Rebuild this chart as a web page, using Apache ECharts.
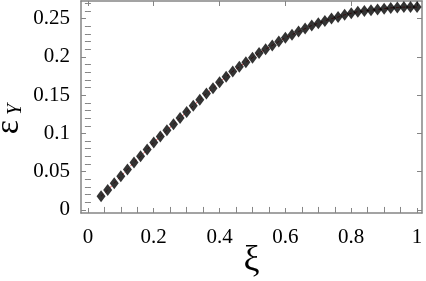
<!DOCTYPE html>
<html>
<head>
<meta charset="utf-8">
<script src="https://cdn.jsdelivr.net/npm/echarts@6/dist/echarts.min.js"></script>
<style>
  html, body { margin: 0; padding: 0; background: #fff; }
  #chart { width: 426px; height: 281px; }
</style>
</head>
<body>
<div id="chart"></div>
<script>
// data
const xi = [0.04, 0.06, 0.08, 0.10, 0.12, 0.14, 0.16, 0.18, 0.20, 0.22,
  0.24, 0.26, 0.28, 0.30, 0.32, 0.34, 0.36, 0.38, 0.40, 0.42,
  0.44, 0.46, 0.48, 0.50, 0.52, 0.54, 0.56, 0.58, 0.60, 0.62,
  0.64, 0.66, 0.68, 0.70, 0.72, 0.74, 0.76, 0.78, 0.80, 0.82,
  0.84, 0.86, 0.88, 0.90, 0.92, 0.94, 0.96, 0.98, 1.00];
const epsY = [0.018, 0.026, 0.035, 0.044, 0.053, 0.062, 0.070, 0.079, 0.088, 0.096,
  0.104, 0.112, 0.120, 0.128, 0.136, 0.144, 0.152, 0.159, 0.167, 0.174,
  0.181, 0.187, 0.193, 0.199, 0.205, 0.210, 0.215, 0.220, 0.225, 0.229,
  0.233, 0.237, 0.241, 0.244, 0.247, 0.250, 0.252, 0.255, 0.257, 0.259,
  0.260, 0.261, 0.262, 0.263, 0.264, 0.2645, 0.265, 0.265, 0.265];

// tick labels
const xTicks = [0, 0.2, 0.4, 0.6, 0.8, 1];
const xMinor = [0.05, 0.1, 0.15, 0.25, 0.3, 0.35, 0.45, 0.5, 0.55, 0.65, 0.7, 0.75, 0.85, 0.9, 0.95];
const yTicks = [0, 0.05, 0.1, 0.15, 0.2, 0.25];
const yMinor = [0.01, 0.02, 0.03, 0.04, 0.06, 0.07, 0.08, 0.09, 0.11, 0.12, 0.13, 0.14,
  0.16, 0.17, 0.18, 0.19, 0.21, 0.22, 0.23, 0.24, 0.26, 0.27];

const XMIN = -0.021, XMAX = 1.015;
const YMIN = -0.004, YMAX = 0.273;

const frame = "#858585";
const serif = "'Liberation Serif', 'DejaVu Serif', serif";
const fmt = (v) => String(+(+v).toFixed(2));

// one axis for the frame side + major ticks, one for the minor ticks
const makeAxis = (pos, min, max, ticks, minor, isX) => {
  const base = { type: "value", position: pos, min: min, max: max, splitLine: { show: false } };
  const labels = pos === "bottom" || pos === "left";
  return [
    {
      ...base,
      axisLine: { show: true, onZero: false, lineStyle: { color: frame, width: 1.5 } },
      axisTick: { show: true, inside: true, length: 5, customValues: ticks, lineStyle: { color: frame, width: 1 } },
      axisLabel: labels
        ? { show: true, customValues: ticks, formatter: fmt, color: "#000", fontFamily: serif, fontSize: 21, margin: isX ? 14 : 11 }
        : { show: false },
    },
    {
      ...base,
      axisLine: { show: false },
      axisTick: { show: true, inside: true, length: 3, customValues: minor, lineStyle: { color: frame, width: 1 } },
      axisLabel: { show: false },
    },
  ];
};

const xAxes = [
  ...makeAxis("bottom", XMIN, XMAX, xTicks, xMinor, true),
  ...makeAxis("top", XMIN, XMAX, xTicks, xMinor, true),
];
xAxes[0].name = "ξ";
xAxes[0].nameLocation = "middle";
xAxes[0].nameMoveOverlap = false;
xAxes[0].nameGap = 30;
xAxes[0].nameTextStyle = { fontFamily: serif, fontSize: 36, color: "#000" };

const yAxes = [
  ...makeAxis("left", YMIN, YMAX, yTicks, yMinor, false),
  ...makeAxis("right", YMIN, YMAX, yTicks, yMinor, false),
];
yAxes[0].name = "{e|ε}{s| Y}";
yAxes[0].nameLocation = "middle";
yAxes[0].nameRotate = 90;
yAxes[0].nameMoveOverlap = false;
yAxes[0].nameGap = 55;
yAxes[0].nameTextStyle = {
  padding: [0, 24, 0, 0],
  rich: {
    e: { fontFamily: serif, fontSize: 34, color: "#000", verticalAlign: "bottom" },
    s: { fontFamily: serif, fontSize: 20, fontStyle: "italic", color: "#000", verticalAlign: "bottom" },
  },
};

const points = xi.map((x, i) => [x, epsY[i]]);

const chart = echarts.init(document.getElementById("chart"), null, { renderer: "canvas" });
chart.setOption({
  animation: false,
  grid: { left: 81, right: 4, top: 1, bottom: 68, containLabel: false, outerBoundsMode: "none" },
  xAxis: xAxes,
  yAxis: yAxes,
  series: [
    {
      type: "line",
      data: points,
      smooth: true,
      showSymbol: false,
      lineStyle: { color: "#e04040", width: 1, type: [3, 3] },
      z: 1,
    },
    {
      type: "scatter",
      data: points,
      symbol: "diamond",
      symbolSize: [9, 12],
      itemStyle: { color: "#000" },
      z: 2,
    },
  ],
});
</script>
</body>
</html>
